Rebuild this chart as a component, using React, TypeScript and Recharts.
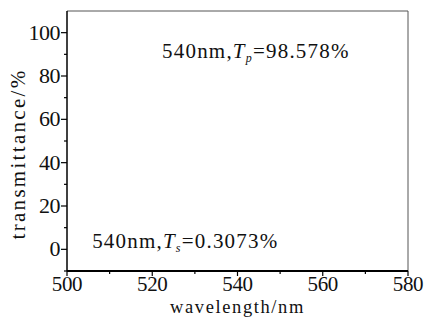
import React from 'react';
import { LineChart, XAxis, YAxis, ReferenceDot, ReferenceLine } from 'recharts';

const xMajorTicks = [500, 520, 540, 560, 580];
const xMinorTicks = [510, 530, 550, 570];
const yMajorTicks = [0, 20, 40, 60, 80, 100];
const yMinorTicks = [-10, 10, 30, 50, 70, 90];
const annotationPrefix = ['540nm,', '540nm,'];
const annotationSymbol = ['T', 'T'];
const annotationSub = ['p', 's'];
const annotationValue = ['=98.578%', '=0.3073%'];
const xTitle = 'wavelength/nm';
const yTitle = 'transmittance/%';

const xAll = [...xMajorTicks, ...xMinorTicks].sort((a, b) => a - b);
const yAll = [...yMajorTicks, ...yMinorTicks].sort((a, b) => a - b);
const rows = xMajorTicks.map((w) => ({ wavelength: w }));

const FONT = '"Liberation Serif", "Times New Roman", Times, serif';

const XTick = (props: any) => {
  const { x, y, payload } = props;
  const major = xMajorTicks.includes(payload.value);
  const axisY = y - 6;
  return (
    <g>
      <line x1={x} x2={x} y1={axisY} y2={axisY + (major ? 5 : 3)} stroke="#000" strokeWidth={1.2} />
      {major && (
        <text x={x} y={y + 14} textAnchor="middle" style={{ fontFamily: FONT, fontSize: 21, letterSpacing: -0.3 }} fill="#111">
          {payload.value}
        </text>
      )}
    </g>
  );
};

const YTick = (props: any) => {
  const { x, y, payload } = props;
  const major = yMajorTicks.includes(payload.value);
  const axisX = x + 6;
  return (
    <g>
      <line x1={axisX - (major ? 6 : 3)} x2={axisX} y1={y} y2={y} stroke="#000" strokeWidth={1.2} />
      {major && (
        <text x={x - 1} y={y + 7} textAnchor="end" style={{ fontFamily: FONT, fontSize: 22, letterSpacing: -0.5 }} fill="#111">
          {payload.value}
        </text>
      )}
    </g>
  );
};

const makeAnno = (i: number) => (props: any) => {
  const { cx, cy } = props;
  return (
    <text x={cx} y={cy} style={{ fontFamily: FONT, fontSize: 21, letterSpacing: 1.2 }} fill="#111">
      {annotationPrefix[i]}
      <tspan style={{ fontStyle: 'italic' }}>{annotationSymbol[i]}</tspan>
      <tspan style={{ fontStyle: 'italic', fontSize: 12 }} dy={4}>{annotationSub[i]}</tspan>
      <tspan dy={-4}>{annotationValue[i]}</tspan>
    </text>
  );
};

const YLabel = (props: any) => {
  const vb = props.viewBox || { x: 0, y: 0, width: 0, height: 0 };
  const cx = vb.x + 18;
  const cy = vb.y + vb.height / 2 + 13;
  return (
    <text x={cx} y={cy} transform={`rotate(-90, ${cx}, ${cy})`} textAnchor="middle" dominantBaseline="central" style={{ fontFamily: FONT, fontSize: 21, letterSpacing: 2.3 }} fill="#111">
      {yTitle}
    </text>
  );
};

const XLabel = (props: any) => {
  const vb = props.viewBox || { x: 0, y: 0, width: 0, height: 0 };
  const cx = vb.x + vb.width / 2;
  const cy = vb.y + 42;
  return (
    <text x={cx} y={cy} textAnchor="middle" style={{ fontFamily: FONT, fontSize: 18.5, letterSpacing: 1.6 }} fill="#111">
      {xTitle}
    </text>
  );
};

export default function App() {
  return (
    <div style={{ position: 'absolute', left: 0, top: 0, width: 424, height: 321, background: '#fff' }}>
      <LineChart width={424} height={321} data={rows} margin={{ top: 11, right: 16, left: 0, bottom: 0 }}>
        <XAxis
          xAxisId="b"
          dataKey="wavelength"
          type="number"
          domain={[500, 580]}
          allowDataOverflow
          ticks={xAll}
          interval={0}
          height={50}
          tickLine={false}
          tickSize={6}
          tickMargin={0}
          tick={<XTick />}
          axisLine={{ stroke: '#000', strokeWidth: 2 }}
          label={<XLabel />}
        />
        <YAxis
          yAxisId="l"
          type="number"
          domain={[-10, 110]}
          allowDataOverflow
          ticks={yAll}
          interval={0}
          width={67}
          tickLine={false}
          tickSize={6}
          tickMargin={0}
          tick={<YTick />}
          axisLine={{ stroke: '#000', strokeWidth: 1.5 }}
          label={<YLabel />}
        />
        <ReferenceLine xAxisId="b" yAxisId="l" y={110} stroke="#555" strokeWidth={1} ifOverflow="visible" />
        <ReferenceLine xAxisId="b" yAxisId="l" x={580} stroke="#555" strokeWidth={1} ifOverflow="visible" />
        <ReferenceDot xAxisId="b" yAxisId="l" x={522.3} y={88.3} r={0} shape={makeAnno(0)} ifOverflow="visible" />
        <ReferenceDot xAxisId="b" yAxisId="l" x={505.9} y={0.6} r={0} shape={makeAnno(1)} ifOverflow="visible" />
      </LineChart>
    </div>
  );
}
